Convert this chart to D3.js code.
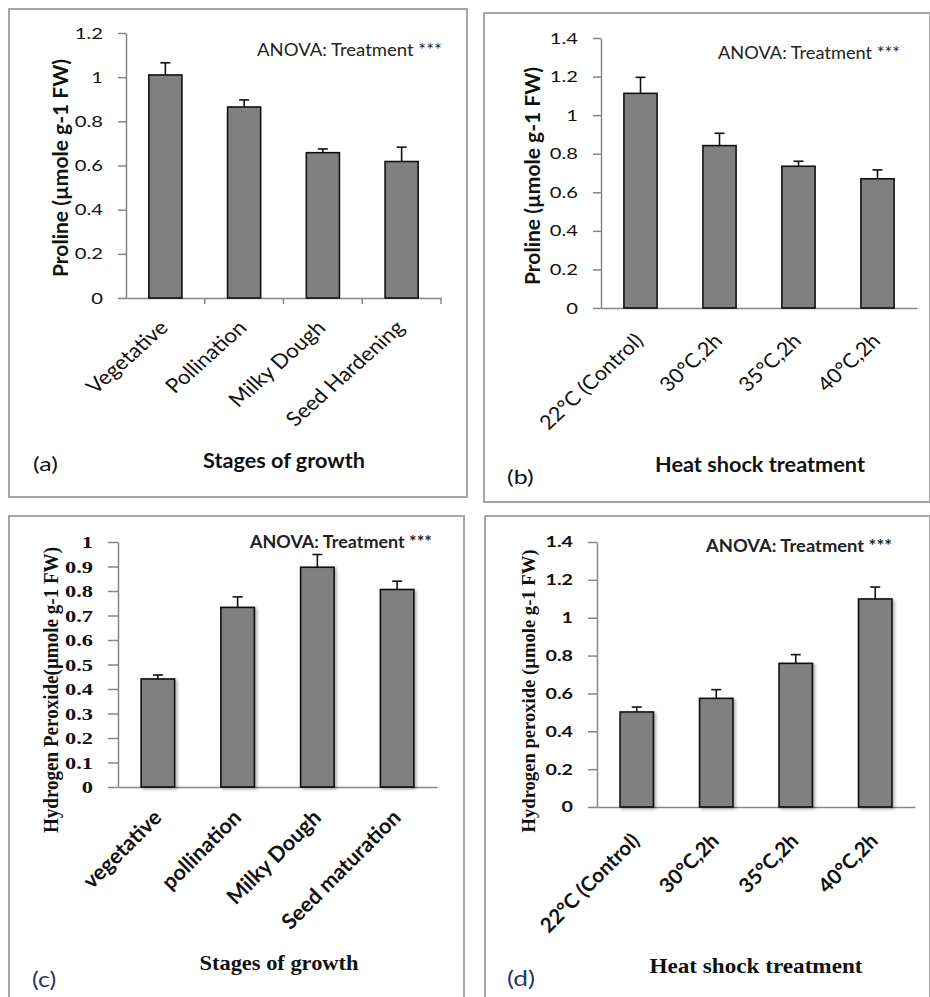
<!DOCTYPE html>
<html>
<head>
<meta charset="utf-8">
<script src="https://cdn.jsdelivr.net/npm/d3@7"></script>
<style>
  html, body { margin: 0; padding: 0; background: #fff; }
  svg { display: block; }
</style>
</head>
<body>
<svg id="fig" width="930" height="997"></svg>
<script>
// Proline and hydrogen peroxide content by growth stage and heat shock treatment
const stageLabelsA = ["Vegetative", "Pollination", "Milky Dough", "Seed Hardening"];
const prolineStage = [1.01, 0.865, 0.658, 0.618];
const prolineStageErr = [0.055, 0.032, 0.017, 0.065];

const heatLabels = ["22°C (Control)", "30°C,2h", "35°C,2h", "40°C,2h"];
const prolineHeat = [1.113, 0.842, 0.735, 0.670];
const prolineHeatErr = [0.083, 0.064, 0.026, 0.046];

const stageLabelsC = ["vegetative", "pollination", "Milky Dough", "Seed maturation"];
const h2o2Stage = [0.441, 0.733, 0.897, 0.806];
const h2o2StageErr = [0.016, 0.043, 0.052, 0.034];

const h2o2Heat = [0.502, 0.574, 0.759, 1.099];
const h2o2HeatErr = [0.026, 0.046, 0.046, 0.063];

const ticksA = [0, 0.2, 0.4, 0.6, 0.8, 1, 1.2];
const ticksB = [0, 0.2, 0.4, 0.6, 0.8, 1, 1.2, 1.4];
const ticksC = [0, 0.1, 0.2, 0.3, 0.4, 0.5, 0.6, 0.7, 0.8, 0.9, 1];
const ticksD = [0, 0.2, 0.4, 0.6, 0.8, 1, 1.2, 1.4];

const SANS = "Lato, 'Open Sans', sans-serif";
const SERIF = "'Liberation Serif', 'DejaVu Serif', serif";

const svg = d3.select("#fig");

const defs = svg.append("defs");
const shadow = defs.append("filter").attr("id", "barShadow")
  .attr("x", "-20%").attr("y", "-20%").attr("width", "150%").attr("height", "150%");
shadow.append("feDropShadow").attr("dx", 2).attr("dy", 1.5).attr("stdDeviation", 1.4)
  .attr("flood-color", "#000").attr("flood-opacity", 0.3);

const panels = [
  {
    id: "a", frame: [9, 9, 458, 488],
    x0: 126, x1: 441, yBase: 298, yTop: 33, max: 1.2,
    cats: stageLabelsA, vals: prolineStage, errs: prolineStageErr, ticks: ticksA,
    tickFont: SANS, tickWeight: "normal", tickSize: 16, tickStretch: 1.26, tickLen: 8,
    xTicksDown: true,
    catWeight: "normal", catSize: 20, catStretch: 1.12, catDx: 4, catDy: 31,
    yTitle: "Proline (µmole g-1 FW)", yTitleX: 60, yTitleY: 168, yTitleLen: 218,
    yTitleFont: SANS, yTitleSize: 20,
    xTitle: "Stages of growth", xTitleX: 284, xTitleY: 459, xTitleLen: 162,
    xTitleFont: SANS, xTitleSize: 21,
    anova: "ANOVA: Treatment ***", anovaX: 257, anovaY: 49, anovaLen: 185,
    anovaWeight: "normal", anovaSize: 17,
    tag: "(a)", tagX: 33, tagY: 463, tagSize: 20, tagStretch: 1.25, tagColor: "#111",
    shadow: false
  },
  {
    id: "b", frame: [484, 13, 446, 489],
    x0: 601, x1: 917, yBase: 308, yTop: 38, max: 1.4,
    cats: heatLabels, vals: prolineHeat, errs: prolineHeatErr, ticks: ticksB,
    tickFont: SANS, tickWeight: "normal", tickSize: 16, tickStretch: 1.26, tickLen: 8,
    xTicksDown: false,
    catWeight: "normal", catSize: 20, catStretch: 1.08, catDx: 4, catDy: 34,
    yTitle: "Proline (µmole g-1 FW)", yTitleX: 532, yTitleY: 176, yTitleLen: 218,
    yTitleFont: SANS, yTitleSize: 20,
    xTitle: "Heat shock treatment", xTitleX: 760, xTitleY: 463, xTitleLen: 210,
    xTitleFont: SANS, xTitleSize: 21,
    anova: "ANOVA: Treatment ***", anovaX: 718, anovaY: 52, anovaLen: 182,
    anovaWeight: "normal", anovaSize: 17,
    tag: "(b)", tagX: 507, tagY: 476, tagSize: 20, tagStretch: 1.25, tagColor: "#111",
    shadow: false
  },
  {
    id: "c", frame: [9, 516, 455, 490],
    x0: 118, x1: 437, yBase: 787, yTop: 542, max: 1.0,
    cats: stageLabelsC, vals: h2o2Stage, errs: h2o2StageErr, ticks: ticksC,
    tickFont: SERIF, tickWeight: "bold", tickSize: 17.5, tickStretch: 1.28, tickLen: 10,
    xTicksDown: false,
    catWeight: "bold", catSize: 21.5, catStretch: 1.0, catDx: 5, catDy: 32,
    yTitle: "Hydrogen Peroxide(µmole g-1 FW)", yTitleX: 51, yTitleY: 690, yTitleLen: 286,
    yTitleFont: SERIF, yTitleSize: 20,
    xTitle: "Stages of growth", xTitleX: 279, xTitleY: 963, xTitleLen: 159,
    xTitleFont: SERIF, xTitleSize: 21,
    anova: "ANOVA: Treatment ***", anovaX: 250, anovaY: 542, anovaLen: 182,
    anovaWeight: "bold", anovaSize: 16.5,
    tag: "(c)", tagX: 32, tagY: 979, tagSize: 22, tagStretch: 1.14, tagColor: "#1f3864",
    shadow: true
  },
  {
    id: "d", frame: [485, 516, 445, 490],
    x0: 597, x1: 915, yBase: 807, yTop: 542, max: 1.4,
    cats: heatLabels, vals: h2o2Heat, errs: h2o2HeatErr, ticks: ticksD,
    tickFont: SANS, tickWeight: "bold", tickSize: 15.5, tickStretch: 1.27, tickLen: 9,
    xTicksDown: false,
    catWeight: "bold", catSize: 20.5, catStretch: 1.0, catDx: 4, catDy: 35,
    yTitle: "Hydrogen peroxide (µmole g-1 FW)", yTitleX: 529, yTitleY: 691, yTitleLen: 283,
    yTitleFont: SERIF, yTitleSize: 18,
    xTitle: "Heat  shock treatment", xTitleX: 756, xTitleY: 965, xTitleLen: 213,
    xTitleFont: SERIF, xTitleSize: 22,
    anova: "ANOVA: Treatment ***", anovaX: 706, anovaY: 546, anovaLen: 186,
    anovaWeight: "bold", anovaSize: 16.5,
    tag: "(d)", tagX: 507, tagY: 978, tagSize: 21, tagStretch: 1.25, tagColor: "#1f3864",
    shadow: true
  }
];

const fmt = d => String(+d.toFixed(1));

panels.forEach(p => {
  const g = svg.append("g").attr("class", "panel-" + p.id);

  // panel frame
  g.append("rect")
    .attr("x", p.frame[0]).attr("y", p.frame[1])
    .attr("width", p.frame[2]).attr("height", p.frame[3])
    .attr("fill", "#fff").attr("stroke", "#a6a6a6").attr("stroke-width", 2);

  const x = d3.scaleBand().domain(p.cats).range([p.x0, p.x1]).padding(0);
  const y = d3.scaleLinear().domain([0, p.max]).range([p.yBase, p.yTop]);
  const barW = x.bandwidth() * 0.42;

  // y axis
  const pad = 15;
  const yAxis = g.append("g").attr("transform", `translate(${p.x0},0)`)
    .call(d3.axisLeft(y).tickValues(p.ticks).tickFormat(fmt)
      .tickSizeInner(p.tickLen).tickSizeOuter(0).tickPadding(pad));
  yAxis.select(".domain").attr("stroke", "#868686").attr("stroke-width", 1.5);
  yAxis.selectAll(".tick line").attr("stroke", "#868686").attr("stroke-width", 1.5);
  yAxis.selectAll(".tick text")
    .attr("x", 0)
    .attr("transform", `translate(${-(p.tickLen + pad)},0) scale(${p.tickStretch},1)`)
    .attr("fill", "#111")
    .style("font-family", p.tickFont).style("font-weight", p.tickWeight)
    .style("font-size", p.tickSize + "px");

  // x axis
  const xAxis = g.append("g").attr("transform", `translate(0,${p.yBase})`)
    .call(d3.axisBottom(x).tickSize(0).tickFormat(""));
  xAxis.select(".domain").attr("stroke", "#868686").attr("stroke-width", 1.5);
  if (p.xTicksDown) {
    const bounds = p.cats.map(c => x(c) + x.bandwidth());
    g.selectAll(".xb").data(bounds).join("line")
      .attr("x1", d => d).attr("x2", d => d)
      .attr("y1", p.yBase).attr("y2", p.yBase + 6)
      .attr("stroke", "#868686").attr("stroke-width", 1.5);
  }

  // bars
  const bars = g.append("g");
  if (p.shadow) bars.attr("filter", "url(#barShadow)");
  bars.selectAll("rect").data(p.vals).join("rect")
    .attr("x", (d, i) => x(p.cats[i]) + x.bandwidth() / 2 - barW / 2)
    .attr("y", d => y(d))
    .attr("width", barW)
    .attr("height", d => y(0) - y(d))
    .attr("fill", "#808080").attr("stroke", "#111").attr("stroke-width", 1.6);

  // upper error bars
  const eg = g.append("g").attr("stroke", "#111").attr("stroke-width", 1.6);
  p.vals.forEach((v, i) => {
    const cx = x(p.cats[i]) + x.bandwidth() / 2;
    eg.append("line").attr("x1", cx).attr("x2", cx)
      .attr("y1", y(v)).attr("y2", y(v + p.errs[i]));
    eg.append("line").attr("x1", cx - 5).attr("x2", cx + 5)
      .attr("y1", y(v + p.errs[i])).attr("y2", y(v + p.errs[i]));
  });

  // category labels, rotated
  g.selectAll(".cat").data(p.cats).join("text")
    .attr("class", "cat")
    .attr("transform", d => `translate(${x(d) + x.bandwidth() / 2 + p.catDx},${p.yBase + p.catDy}) scale(${p.catStretch},1) rotate(-45)`)
    .attr("text-anchor", "end")
    .attr("fill", "#111")
    .style("font-family", SANS).style("font-weight", p.catWeight)
    .style("font-size", p.catSize + "px")
    .text(d => d);

  // y axis title
  g.append("text")
    .attr("transform", `translate(${p.yTitleX},${p.yTitleY}) rotate(-90)`)
    .attr("text-anchor", "middle").attr("dominant-baseline", "central")
    .attr("textLength", p.yTitleLen).attr("lengthAdjust", "spacingAndGlyphs")
    .attr("fill", "#111")
    .style("font-family", p.yTitleFont).style("font-weight", "bold")
    .style("font-size", p.yTitleSize + "px")
    .text(p.yTitle);

  // x axis title
  g.append("text")
    .attr("x", p.xTitleX).attr("y", p.xTitleY)
    .attr("text-anchor", "middle").attr("dominant-baseline", "central")
    .attr("textLength", p.xTitleLen).attr("lengthAdjust", "spacingAndGlyphs")
    .attr("fill", "#111")
    .style("font-family", p.xTitleFont).style("font-weight", "bold")
    .style("font-size", p.xTitleSize + "px")
    .text(p.xTitle);

  // ANOVA note
  g.append("text")
    .attr("x", p.anovaX).attr("y", p.anovaY)
    .attr("dominant-baseline", "central")
    .attr("textLength", p.anovaLen).attr("lengthAdjust", "spacingAndGlyphs")
    .attr("fill", "#222")
    .style("font-family", SANS).style("font-weight", p.anovaWeight)
    .style("font-size", p.anovaSize + "px")
    .text(p.anova);

  // panel tag
  g.append("text")
    .attr("transform", `translate(${p.tagX},${p.tagY}) scale(${p.tagStretch},1)`)
    .attr("dominant-baseline", "central")
    .attr("fill", p.tagColor)
    .style("font-family", SANS).style("font-size", p.tagSize + "px")
    .text(p.tag);
});
</script>
</body>
</html>
